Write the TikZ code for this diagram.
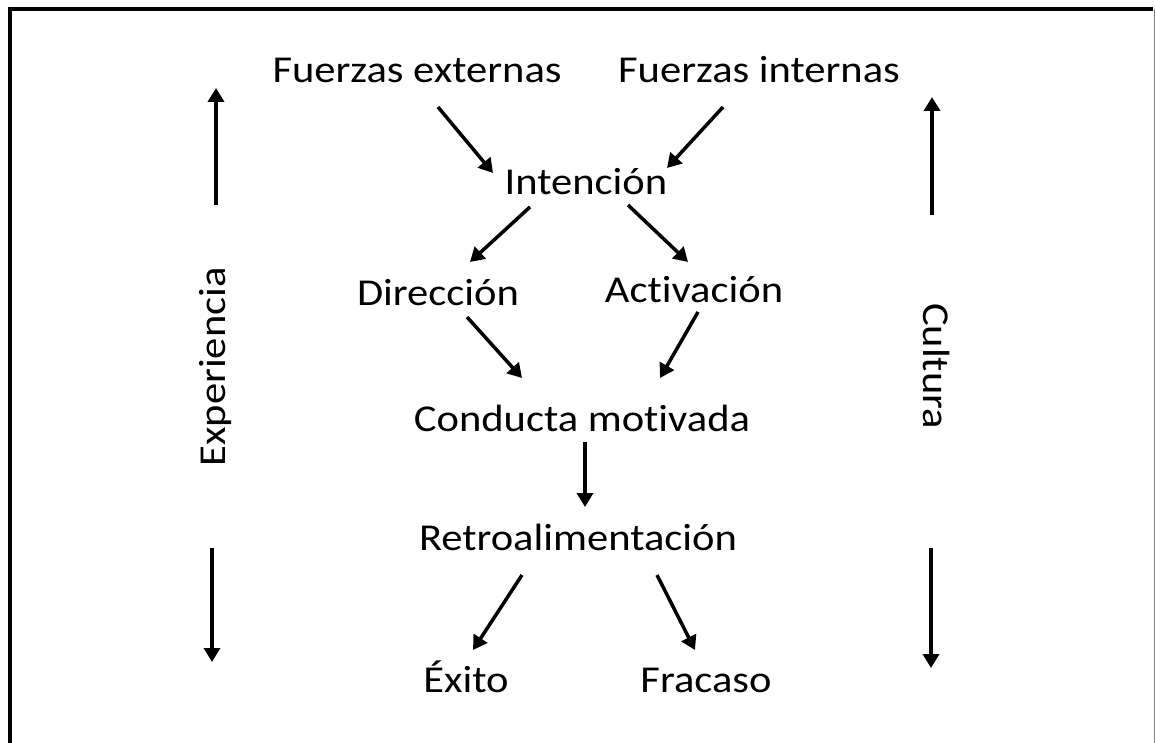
\documentclass[tikz,border=0pt]{standalone}
\usepackage{fontspec}
\setmainfont{Carlito}[FakeStretch=1.12,Ligatures=NoCommon]
\usetikzlibrary{arrows.meta,calc}
\begin{document}
\begin{tikzpicture}[x=1pt,y=-1pt,
    txt/.style={anchor=base,inner sep=0pt,font=\fontsize{38}{45}\selectfont},
    arr/.style={line width=3.5pt,-{Triangle[width=16pt,length=14pt]}}]
  \useasboundingbox (0,0) rectangle (1155,743);
  % marco
  \draw[line width=4pt] (10,743) -- (10,9) -- (1153,9);
  \draw[line width=1pt,gray] (1154,9) -- (1154,743);
  % textos
  \node[txt] (ext) at (417,83) {Fuerzas externas};
  \node[txt] (intl) at (759,83) {Fuerzas internas};
  \node[txt] (int) at (586,195) {Intención};
  \node[txt] (dir) at (438,305) {Dirección};
  \node[txt] (act) at (694,302) {Activación};
  \node[txt] (cond) at (582,431) {Conducta motivada};
  \node[txt] (retro) at (578,550) {Retroalimentación};
  \node[txt] (exito) at (466,692) {Éxito};
  \node[txt] (fracaso) at (706,692) {Fracaso};
  \node[txt,rotate=90] (expe) at (225,367) {Experiencia};
  \node[txt,rotate=-90] (cult) at (923,366) {Cultura};
  % flechas
  \draw[arr] ($(ext.base)+(21,24)$) -- ($(int.base)+(-93,-22)$);
  \draw[arr] ($(intl.base)+(-36,24)$) -- ($(int.base)+(81,-27)$);
  \draw[arr] ($(int.base)+(-56,12)$) -- ($(dir.base)+(32,-43)$);
  \draw[arr] ($(int.base)+(42,10)$) -- ($(act.base)+(-6,-40)$);
  \draw[arr] ($(dir.base)+(29,12)$) -- ($(cond.base)+(-60,-53)$);
  \draw[arr] ($(act.base)+(4,10)$) -- ($(cond.base)+(78,-53)$);
  \draw[arr] ($(cond.base)+(3,11)$) -- ($(retro.base)+(7,-43)$);
  \draw[arr] ($(retro.base)+(-56,25)$) -- ($(exito.base)+(7,-42)$);
  \draw[arr] ($(retro.base)+(79,25)$) -- ($(fracaso.base)+(-11,-42)$);
  % laterales
  \draw[arr,line width=4pt] ($(expe.base)+(-9,-162)$) -- ($(expe.base)+(-9,-279)$);
  \draw[arr,line width=4pt] ($(expe.base)+(-13,181)$) -- ($(expe.base)+(-13,295)$);
  \draw[arr,line width=4pt] ($(cult.base)+(9,-151)$) -- ($(cult.base)+(9,-269)$);
  \draw[arr,line width=4pt] ($(cult.base)+(8,182)$) -- ($(cult.base)+(8,302)$);
\end{tikzpicture}
\end{document}
